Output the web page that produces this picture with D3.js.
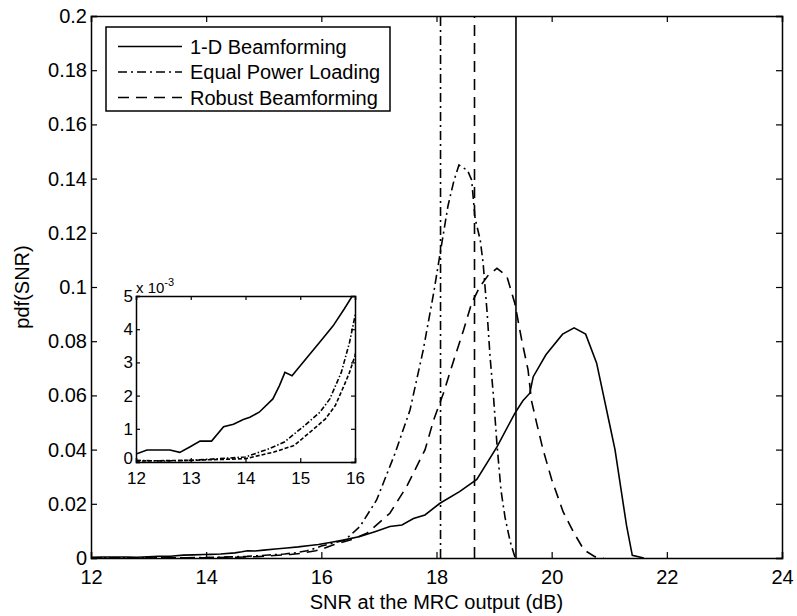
<!DOCTYPE html>
<html>
<head>
<meta charset="utf-8">
<script src="https://d3js.org/d3.v7.min.js"></script>
<style>
  body { margin: 0; background: #fff; }
  svg text { font-family: "Liberation Sans", Arial, Helvetica, sans-serif; fill: #000; }
</style>
</head>
<body>
<svg width="797" height="616"></svg>
<script>
// data
const seriesNames = ["1-D Beamforming", "Equal Power Loading", "Robust Beamforming"];

const snrBeam = [12.0, 12.2, 12.62, 12.8, 12.99, 13.17, 13.38, 13.6, 13.78, 13.96, 14.08, 14.25, 14.5, 14.62, 14.72, 14.85, 15.0, 15.2, 15.4, 15.6, 15.8, 15.95, 16.2, 16.38, 16.67, 16.93, 17.19, 17.4, 17.6, 17.8, 18.06, 18.4, 18.7, 19.05, 19.36, 19.5, 19.62, 19.68, 19.9, 20.19, 20.39, 20.59, 20.78, 20.9, 21.0, 21.1, 21.2, 21.3, 21.4, 21.6];
const pdfBeam = [0.00024, 0.00036, 0.00036, 0.00029, 0.00046, 0.00063, 0.00063, 0.00106, 0.00114, 0.00128, 0.00135, 0.0015, 0.0019, 0.0023, 0.0027, 0.0026, 0.0029, 0.0033, 0.0037, 0.0041, 0.0046, 0.0050, 0.0059, 0.0066, 0.0079, 0.0097, 0.0116, 0.0122, 0.0146, 0.0159, 0.0202, 0.0245, 0.029, 0.041, 0.0534, 0.058, 0.0608, 0.0669, 0.075, 0.0826, 0.0849, 0.0826, 0.072, 0.06, 0.05, 0.04, 0.026, 0.012, 0.001, 0];

const snrEqual = [12.0, 12.5, 13.0, 13.5, 14.0, 14.43, 14.71, 15.08, 15.36, 15.54, 15.75, 15.9, 16.0, 16.2, 16.41, 16.67, 16.96, 17.28, 17.54, 17.77, 17.95, 18.06, 18.2, 18.3, 18.39, 18.54, 18.61, 18.67, 18.76, 18.81, 18.88, 18.93, 18.99, 19.05, 19.12, 19.19, 19.28, 19.36, 19.4];
const pdfEqual = [0.00005, 0.00003, 0.00005, 0.0001, 0.00015, 0.0004, 0.0006, 0.0011, 0.0015, 0.0019, 0.0027, 0.0036, 0.0044, 0.0055, 0.0066, 0.0116, 0.0214, 0.0386, 0.0546, 0.0768, 0.0977, 0.112, 0.130, 0.139, 0.145, 0.143, 0.1395, 0.1253, 0.1173, 0.1087, 0.0903, 0.0743, 0.0595, 0.042, 0.025, 0.015, 0.006, 0.0005, 0];

const snrRobust = [12.0, 13.0, 14.0, 14.52, 14.89, 15.18, 15.46, 15.64, 15.8, 15.9, 16.0, 16.2, 16.5, 16.79, 17.19, 17.48, 17.8, 17.95, 18.12, 18.3, 18.47, 18.61, 18.75, 18.9, 19.05, 19.22, 19.36, 19.48, 19.59, 19.65, 19.74, 19.85, 20.0, 20.2, 20.38, 20.56, 20.75, 20.9];
const pdfRobust = [0.00003, 0.00005, 0.0001, 0.0003, 0.0005, 0.0009, 0.0013, 0.0017, 0.0023, 0.0027, 0.0032, 0.0048, 0.0066, 0.0091, 0.0165, 0.0263, 0.0399, 0.0509, 0.0608, 0.073, 0.0841, 0.094, 0.1, 0.1044, 0.1069, 0.1041, 0.094, 0.0804, 0.0694, 0.058, 0.0497, 0.04, 0.029, 0.017, 0.0095, 0.003, 0.0005, 0];

// mean SNR markers (vertical lines)
const meanSnr = [19.38, 18.07, 18.66];

const xTicks = [12, 14, 16, 18, 20, 22, 24];
const yTicks = [0, 0.02, 0.04, 0.06, 0.08, 0.1, 0.12, 0.14, 0.16, 0.18, 0.2];
const yTickLabels = ["0", "0.02", "0.04", "0.06", "0.08", "0.1", "0.12", "0.14", "0.16", "0.18", "0.2"];
const insetXTicks = [12, 13, 14, 15, 16];
const insetYTicks = [0, 1, 2, 3, 4, 5];

const dashes = ["none", "9,4,2,4", "11,7"];

// layout
const mainLeft = 91, mainTop = 16, mainRight = 782, mainBottom = 558;
const insetLeft = 136, insetTop = 296, insetRight = 355, insetBottom = 462;

const svg = d3.select("svg");

const x = d3.scaleLinear().domain([12, 24]).range([mainLeft, mainRight]);
const y = d3.scaleLinear().domain([0, 0.2]).range([mainBottom, mainTop]);

const series = [
    d3.zip(snrBeam, pdfBeam),
    d3.zip(snrEqual, pdfEqual),
    d3.zip(snrRobust, pdfRobust)
];

svg.append("clipPath").attr("id", "mainClip")
   .append("rect")
   .attr("x", mainLeft).attr("y", mainTop)
   .attr("width", mainRight - mainLeft).attr("height", mainBottom - mainTop);

const plot = svg.append("g").attr("clip-path", "url(#mainClip)");

const line = d3.line().x(d => x(d[0])).y(d => y(d[1]));

// vertical mean lines
plot.selectAll(".mean").data(meanSnr).enter().append("line")
    .attr("x1", d => x(d)).attr("x2", d => x(d))
    .attr("y1", y(0)).attr("y2", y(0.2))
    .attr("stroke", "#000")
    .attr("stroke-width", 1.6)
    .attr("stroke-dasharray", (d, i) => dashes[i]);

plot.selectAll(".curve").data(series).enter().append("path")
    .attr("d", line)
    .attr("fill", "none")
    .attr("stroke", "#000")
    .attr("stroke-width", 1.6)
    .attr("stroke-dasharray", (d, i) => dashes[i]);

// axes, ticks point inward
const xAxisCall = d3.axisBottom(x).tickValues(xTicks).tickSize(-6).tickPadding(12);
svg.append("g")
   .attr("transform", `translate(0, ${mainBottom})`)
   .call(xAxisCall);
svg.append("g")
   .attr("transform", `translate(0, ${mainTop})`)
   .call(d3.axisTop(x).tickValues(xTicks).tickSize(-6).tickFormat(""));

const yAxisCall = d3.axisLeft(y).tickValues(yTicks).tickSize(-6).tickPadding(4)
                    .tickFormat((d, i) => yTickLabels[i]);
svg.append("g")
   .attr("transform", `translate(${mainLeft}, 0)`)
   .call(yAxisCall);
svg.append("g")
   .attr("transform", `translate(${mainRight}, 0)`)
   .call(d3.axisRight(y).tickValues(yTicks).tickSize(-6).tickFormat(""));

svg.selectAll(".domain").attr("stroke", "#000").attr("stroke-width", 1.5);
svg.selectAll(".tick line").attr("stroke", "#000").attr("stroke-width", 1.3);
svg.selectAll(".tick text").attr("font-size", "20px").attr("font-family", null);

// X label
svg.append("text")
   .attr("x", (mainLeft + mainRight) / 2)
   .attr("y", 609)
   .attr("font-size", "20px")
   .attr("text-anchor", "middle")
   .text("SNR at the MRC output (dB)");

// Y label
svg.append("text")
   .attr("x", -(mainTop + mainBottom) / 2)
   .attr("y", 29)
   .attr("font-size", "20px")
   .attr("text-anchor", "middle")
   .attr("transform", "rotate(-90)")
   .text("pdf(SNR)");

// legend
const legend = svg.append("g");
legend.append("rect")
      .attr("x", 106).attr("y", 27)
      .attr("width", 284).attr("height", 84)
      .attr("fill", "#fff")
      .attr("stroke", "#000")
      .attr("stroke-width", 1.5);

const rows = legend.selectAll(".row").data(seriesNames).enter().append("g")
      .attr("transform", (d, i) => `translate(0, ${46.5 + i * 25.5})`);
rows.append("line")
    .attr("x1", 118).attr("x2", 182)
    .attr("stroke", "#000")
    .attr("stroke-width", 1.6)
    .attr("stroke-dasharray", (d, i) => dashes[i]);
rows.append("text")
    .attr("x", 190)
    .attr("y", 7)
    .attr("font-size", "20px")
    .text(d => d);

// inset
const xi = d3.scaleLinear().domain([12, 16]).range([insetLeft, insetRight]);
const yi = d3.scaleLinear().domain([0, 5]).range([insetBottom, insetTop]);

svg.append("rect")
   .attr("x", insetLeft).attr("y", insetTop)
   .attr("width", insetRight - insetLeft).attr("height", insetBottom - insetTop)
   .attr("fill", "#fff");

svg.append("clipPath").attr("id", "insetClip")
   .append("rect")
   .attr("x", insetLeft).attr("y", insetTop)
   .attr("width", insetRight - insetLeft).attr("height", insetBottom - insetTop);

const insetLine = d3.line().x(d => xi(d[0])).y(d => yi(d[1] * 1000));
svg.append("g").attr("clip-path", "url(#insetClip)")
   .selectAll("path").data(series).enter().append("path")
   .attr("d", insetLine)
   .attr("fill", "none")
   .attr("stroke", "#000")
   .attr("stroke-width", 1.6)
   .attr("stroke-dasharray", (d, i) => ["none", "5,2,1.5,2", "4,2"][i]);

const ia1 = svg.append("g").attr("transform", `translate(0, ${insetBottom})`)
   .call(d3.axisBottom(xi).tickValues(insetXTicks).tickSize(-4).tickPadding(10)
           .tickFormat(d3.format("d")));
svg.append("g").attr("transform", `translate(0, ${insetTop})`)
   .call(d3.axisTop(xi).tickValues(insetXTicks).tickSize(-4).tickFormat(""));
const ia2 = svg.append("g").attr("transform", `translate(${insetLeft}, 0)`)
   .call(d3.axisLeft(yi).tickValues(insetYTicks).tickSize(-4).tickPadding(3)
           .tickFormat(d3.format("d")));
svg.append("g").attr("transform", `translate(${insetRight}, 0)`)
   .call(d3.axisRight(yi).tickValues(insetYTicks).tickSize(-4).tickFormat(""));

svg.selectAll(".domain").attr("stroke", "#000").attr("stroke-width", 1.5);
svg.selectAll(".tick line").attr("stroke", "#000").attr("stroke-width", 1.2);
ia1.selectAll(".tick text").attr("font-size", "17px").attr("font-family", null);
ia2.selectAll(".tick text").attr("font-size", "17px").attr("font-family", null);
// lift the "0" a little so it clears the "12" below it
ia2.selectAll(".tick text").filter(d => d === 0).attr("dy", "0.1em");

const expo = svg.append("text")
   .attr("x", insetLeft)
   .attr("y", 293)
   .attr("font-size", "15px");
expo.append("tspan").text("x 10");
expo.append("tspan").attr("dy", -7).attr("font-size", "11px").text("-3");
</script>
</body>
</html>
